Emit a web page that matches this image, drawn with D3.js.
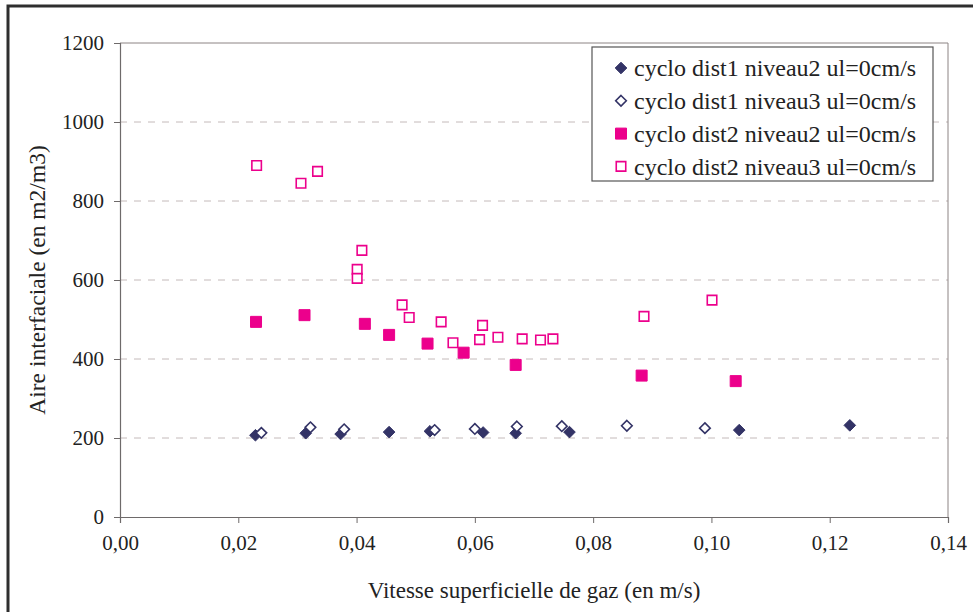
<!DOCTYPE html>
<html><head><meta charset="utf-8">
<script src="https://cdn.jsdelivr.net/npm/d3@7"></script>
<style>html,body{margin:0;padding:0;background:#fff;}svg{display:block;}</style>
</head><body>
<svg id="c" width="973" height="612"></svg>
<script>
const xTicks = [0, 0.02, 0.04, 0.06, 0.08, 0.10, 0.12, 0.14];
const yTicks = [0, 200, 400, 600, 800, 1000, 1200];
const seriesNames = [
  "cyclo dist1 niveau2 ul=0cm/s",
  "cyclo dist1 niveau3 ul=0cm/s",
  "cyclo dist2 niveau2 ul=0cm/s",
  "cyclo dist2 niveau3 ul=0cm/s"
];
const d1n2_x = [0.0229, 0.0314, 0.0373, 0.0455, 0.0524, 0.0614, 0.0669, 0.0760, 0.1047, 0.1234];
const d1n2_y = [207, 212, 210, 215, 217, 214, 212, 215, 220, 232];
const d1n3_x = [0.0239, 0.0322, 0.0379, 0.0532, 0.0600, 0.0671, 0.0747, 0.0857, 0.0989];
const d1n3_y = [213, 227, 222, 220, 223, 229, 230, 231, 225];
const d2n2_x = [0.0230, 0.0312, 0.0414, 0.0455, 0.0520, 0.0581, 0.0669, 0.0882, 0.1041];
const d2n2_y = [494, 511, 489, 461, 439, 416, 385, 358, 344];
const d2n3_x = [0.0231, 0.0306, 0.0334, 0.0409, 0.0401, 0.0401, 0.0477, 0.0489, 0.0543, 0.0563, 0.0613, 0.0608, 0.0639, 0.0680, 0.0711, 0.0732, 0.0886, 0.1001];
const d2n3_y = [890, 845, 875, 675, 627, 604, 537, 505, 494, 441, 485, 449, 455, 451, 448, 451, 508, 549];

const NAVY = "#333366", PINK = "#EC008C";
const styles = [
  {shape: "diamond", fill: NAVY, stroke: NAVY},
  {shape: "diamond", fill: "#fff", stroke: NAVY, open: true},
  {shape: "square", fill: PINK, stroke: PINK},
  {shape: "square", fill: "#fff", stroke: PINK, open: true}
];
const series = [
  d1n2_x.map((x, i) => ({x, y: d1n2_y[i]})),
  d1n3_x.map((x, i) => ({x, y: d1n3_y[i]})),
  d2n2_x.map((x, i) => ({x, y: d2n2_y[i]})),
  d2n3_x.map((x, i) => ({x, y: d2n3_y[i]}))
];

const svg = d3.select("#c");
const FONT = "Liberation Serif, Times New Roman, serif";
const L = 120, R = 948, T = 43, B = 517;
const x = d3.scaleLinear().domain([0, 0.14]).range([L, R]);
const y = d3.scaleLinear().domain([0, 1200]).range([B, T]);

// outer chart border
svg.append("rect").attr("x", 8).attr("y", 6).attr("width", 980).attr("height", 620)
  .attr("fill", "#fff").attr("stroke", "#2e2e2e").attr("stroke-width", 3);

// gridlines
svg.append("g").selectAll("line").data(yTicks.filter(v => v > 0 && v < 1200)).join("line")
  .attr("x1", L).attr("x2", R).attr("y1", d => y(d)).attr("y2", d => y(d))
  .attr("stroke", "#c4baba").attr("stroke-width", 1).attr("stroke-dasharray", "7,7");

// plot border top/right
svg.append("path").attr("d", `M${L},${y(1200)}H${R}V${B}`)
  .attr("fill", "none").attr("stroke", "#8c8484").attr("stroke-width", 1);

const fmtX = v => d3.format(".2f")(v).replace(".", ",");
const xAxis = d3.axisBottom(x).tickValues(xTicks).tickFormat(fmtX).tickSize(6).tickPadding(12);
const yAxis = d3.axisLeft(y).tickValues(yTicks).tickFormat(d3.format("d")).tickSize(6).tickPadding(10);

const gx = svg.append("g").attr("transform", `translate(0,${B})`).call(xAxis);
const gy = svg.append("g").attr("transform", `translate(${L},0)`).call(yAxis);
[gx, gy].forEach(g => {
  g.select(".domain").attr("stroke", "#6e6a6a").attr("stroke-width", 1.2);
  g.selectAll(".tick line").attr("stroke", "#6e6a6a");
  g.selectAll("text").style("font-family", FONT).attr("font-size", 21).attr("fill", "#222");
});

// markers
function markerPath(shape, open) {
  if (shape === "square") {
    const s = open ? 9.5 : 11;
    return `M${-s/2},${-s/2}h${s}v${s}h${-s}Z`;
  }
  const r = open ? 5.3 : 5.8;
  return `M0,${-r}L${r},0L0,${r}L${-r},0Z`;
}
series.forEach((data, i) => {
  const st = styles[i];
  svg.append("g").selectAll("path").data(data).join("path")
    .attr("d", markerPath(st.shape, st.open))
    .attr("transform", d => `translate(${x(d.x)},${y(d.y)})`)
    .attr("fill", st.fill).attr("stroke", st.stroke)
    .attr("stroke-width", st.open ? 1.6 : 1);
});

// axis titles
svg.append("text").attr("x", (L + R) / 2).attr("y", 598).attr("text-anchor", "middle")
  .style("font-family", FONT).attr("font-size", 23).attr("fill", "#222")
  .text("Vitesse superficielle de gaz (en m/s)");
svg.append("text").attr("transform", `translate(45,${(T + B) / 2}) rotate(-90)`)
  .attr("text-anchor", "middle").style("font-family", FONT).attr("font-size", 23.5).attr("fill", "#222")
  .text("Aire interfaciale (en m2/m3)");

// legend
const lg = svg.append("g");
lg.append("rect").attr("x", 592).attr("y", 47).attr("width", 341).attr("height", 134)
  .attr("fill", "#fff").attr("stroke", "#555").attr("stroke-width", 1.2);
seriesNames.forEach((name, i) => {
  const cy = 68 + i * 32.8;
  const st = styles[i];
  lg.append("path").attr("d", markerPath(st.shape, st.open))
    .attr("transform", `translate(621,${cy})`)
    .attr("fill", st.fill).attr("stroke", st.stroke).attr("stroke-width", st.open ? 1.6 : 1);
  lg.append("text").attr("x", 634).attr("y", cy).attr("dy", "0.35em")
    .style("font-family", FONT).attr("font-size", 24).attr("fill", "#222").text(name);
});
</script>
</body></html>
